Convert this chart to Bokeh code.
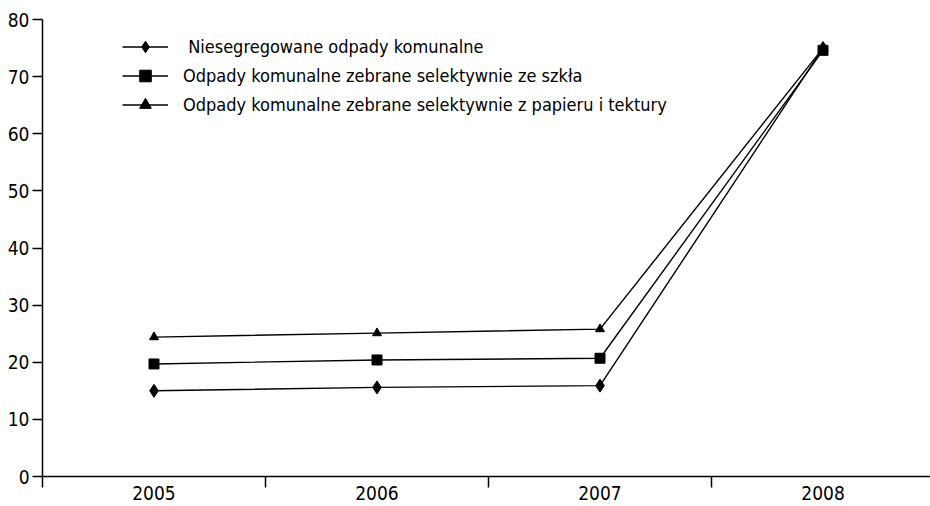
from bokeh.plotting import figure
from bokeh.models import FixedTicker, Legend, LegendItem, Range1d
from bokeh.embed import file_html
from bokeh.resources import INLINE

years = ["2005", "2006", "2007", "2008"]
niesegregowane = [15.0, 15.6, 15.9, 75.0]
szklo = [19.7, 20.4, 20.7, 74.6]
papier = [24.4, 25.1, 25.8, 75.0]
labels = [" Niesegregowane odpady komunalne",
          "Odpady komunalne zebrane selektywnie ze szkła",
          "Odpady komunalne zebrane selektywnie z papieru i tektury"]
y_ticks = [0, 10, 20, 30, 40, 50, 60, 70, 80]

FONT = "Liberation Sans Narrow, DejaVu Sans Condensed, sans-serif"

xc = [i + 0.5 for i in range(len(years))]

p = figure(width=930, height=506, output_backend="svg", toolbar_location=None,
           x_range=Range1d(0, 3.982), y_range=Range1d(0, 80),
           min_border_left=42, min_border_right=0, min_border_top=19, min_border_bottom=30)
p.outline_line_color = None
p.grid.grid_line_color = None
p.background_fill_color = "white"

# x axis
p.xaxis.ticker = FixedTicker(ticks=xc, minor_ticks=[0, 1, 2, 3, 4])
p.xaxis.major_label_overrides = {x: y for x, y in zip(xc, years)}
p.xaxis.major_tick_line_color = None
p.xaxis.major_tick_out = 0
p.xaxis.major_tick_in = 0
p.xaxis.minor_tick_out = 11
p.xaxis.minor_tick_in = 0
p.xaxis.minor_tick_line_color = "black"
p.xaxis.minor_tick_line_width = 1.5
p.xaxis.major_label_standoff = -2
p.xaxis.axis_line_color = "black"
p.xaxis.axis_line_width = 1.5

# y axis
p.yaxis.ticker = FixedTicker(ticks=y_ticks, minor_ticks=[])
p.yaxis.major_tick_out = 10
p.yaxis.major_tick_in = 0
p.yaxis.major_tick_line_width = 1.5
p.yaxis.major_label_standoff = 3
p.yaxis.axis_line_width = 1.5

for ax in (p.xaxis, p.yaxis):
    ax.major_label_text_font = FONT
    ax.major_label_text_font_size = "19px"
    ax.major_label_text_color = "black"

items = []
series = [(niesegregowane, "diamond", 13), (szklo, "square", 10), (papier, "triangle", 9)]
for (vals, marker, size), lab in zip(series, labels):
    l = p.line(xc, vals, line_color="black", line_width=1.4)
    s = p.scatter(xc, vals, marker=marker, size=size,
                  fill_color="black", line_color="black")
    items.append(LegendItem(label=lab, renderers=[l, s]))

legend = Legend(items=items, location=(80, 357), glyph_width=46, glyph_height=29,
                label_height=29, spacing=0, padding=0, margin=0, label_standoff=15,
                label_text_font=FONT, label_text_font_size="18px",
                label_text_color="black",
                border_line_color=None, background_fill_alpha=0)
p.add_layout(legend, "center")

open("out.html", "w").write(file_html(p, INLINE))
